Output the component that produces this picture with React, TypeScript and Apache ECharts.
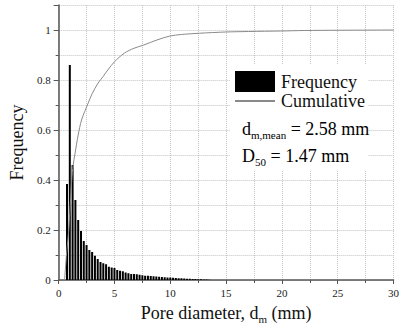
import React, { useEffect, useRef } from "react";
import * as echarts from "echarts";

const binCenters = [
  0.75, 1.0, 1.25, 1.5, 1.75, 2.0, 2.25, 2.5, 2.75, 3.0, 3.25, 3.5, 3.75, 4.0, 4.25, 4.5, 4.75, 5.0,
  5.25, 5.5, 5.75, 6.0, 6.25, 6.5, 6.75, 7.0, 7.25, 7.5, 7.75, 8.0, 8.25, 8.5, 8.75, 9.0, 9.25, 9.5,
  9.75, 10.0, 10.25, 10.5, 10.75, 11.0, 11.25, 11.5, 11.75, 12.0, 12.25, 12.5, 12.75, 13.0, 13.25, 13.5,
];
const frequency = [
  0.384, 0.86, 0.46, 0.32, 0.24, 0.196, 0.156, 0.14, 0.12, 0.112, 0.097, 0.084, 0.072, 0.067, 0.063,
  0.053, 0.05, 0.048, 0.04, 0.037, 0.035, 0.03, 0.027, 0.024, 0.024, 0.023, 0.021, 0.019, 0.017, 0.017,
  0.016, 0.015, 0.014, 0.013, 0.012, 0.011, 0.01, 0.01, 0.009, 0.008, 0.007, 0.007, 0.006, 0.005,
  0.005, 0.004, 0.004, 0.003, 0.003, 0.002, 0.002, 0.001,
];
const cumX = [
  0.53, 0.7, 0.88, 1.0, 1.17, 1.3, 1.47, 1.75, 2.05, 2.64, 3.0, 3.52, 4.0, 4.4, 5.0, 5.87, 6.75, 7.63,
  8.8, 9.97, 11.0, 12.6, 14.96, 17.0, 19.9, 22.0, 25.0, 30.0,
];
const cumY = [
  0, 0.1, 0.187, 0.27, 0.4, 0.46, 0.507, 0.58, 0.64, 0.707, 0.745, 0.787, 0.815, 0.84, 0.873, 0.907,
  0.927, 0.94, 0.96, 0.976, 0.982, 0.987, 0.992, 0.994, 0.996, 0.998, 0.999, 1.0,
];
const statLines = [
  { sym: "d", sub: "m,mean", rest: " = 2.58 mm" },
  { sym: "D", sub: "50", rest: " = 1.47 mm" },
];

const FONT = "Liberation Serif, Times New Roman, serif";

export default function App() {
  const ref = useRef<HTMLDivElement>(null);
  useEffect(() => {
    if (!ref.current) return;
    const chart = echarts.init(ref.current, undefined, { renderer: "svg" });
    const gridLine = { show: true, lineStyle: { type: "dotted", color: "#c4c4c4", width: 1 } };
    const axisLine = { show: true, onZero: false, lineStyle: { color: "#555", width: 1.5 } };
    const rich = {
      n: { fontSize: 18, fontFamily: FONT, color: "#111", lineHeight: 22 },
      s: { fontSize: 11, fontFamily: FONT, color: "#111", lineHeight: 22, verticalAlign: "bottom" },
    };
    chart.setOption({
      animation: false,
      backgroundColor: "#fff",
      grid: { left: 54, right: 8, top: 5, bottom: 53, containLabel: false },
      legend: {
        orient: "vertical",
        left: 234,
        top: 71,
        itemWidth: 40,
        itemHeight: 21,
        itemGap: 0,
        padding: 0,
        textStyle: { fontSize: 18, fontFamily: FONT, color: "#111", padding: [0, 0, 0, 1] },
        data: [
          { name: "Frequency", icon: "rect" },
          { name: "Cumulative", itemStyle: { opacity: 0 } },
        ],
      },
      xAxis: {
        type: "value",
        min: 0,
        max: 30,
        interval: 5,
        name: "{n|Pore diameter, d}{s|m}{n| (mm)}",
        nameLocation: "middle",
        nameGap: 22,
        nameTextStyle: { rich },
        axisLine,
        axisTick: { show: true, length: 4, lineStyle: { color: "#555" } },
        minorTick: { show: true, splitNumber: 2, length: 3, lineStyle: { color: "#555" } },
        axisLabel: { fontSize: 11, fontFamily: FONT, color: "#222", margin: 7 },
        splitLine: gridLine,
        minorSplitLine: gridLine,
      },
      yAxis: {
        type: "value",
        min: 0,
        max: 1.1,
        interval: 0.2,
        name: "Frequency",
        nameLocation: "middle",
        nameGap: 28,
        nameTextStyle: { fontSize: 18, fontFamily: FONT, color: "#111" },
        axisLine,
        axisTick: { show: true, length: 5, lineStyle: { color: "#555" } },
        minorTick: { show: true, splitNumber: 2, length: 3, lineStyle: { color: "#555" } },
        axisLabel: { fontSize: 11, fontFamily: FONT, color: "#222", margin: 8, showMaxLabel: false },
        splitLine: gridLine,
        minorSplitLine: gridLine,
      },
      graphic: [
        {
          type: "rect",
          z: 1,
          shape: { x: 230, y: 64, width: 138, height: 106 },
          style: { fill: "#fff" },
        },
        ...statLines.map((l, i) => ({
          type: "text",
          z: 5,
          left: 242,
          top: 120 + i * 27,
          style: {
            text: `{n|${l.sym}}{s|${l.sub}}{n|${l.rest}}`,
            rich,
          },
        })),
      ],
      series: [
        {
          name: "Frequency",
          type: "bar",
          barWidth: 2,
          itemStyle: { color: "#000" },
          data: binCenters.map((x, i) => [x, frequency[i]]),
          z: 3,
        },
        {
          name: "Cumulative",
          type: "line",
          smooth: 0.3,
          showSymbol: false,
          symbol: "none",
          lineStyle: { color: "#8a8a8a", width: 1 },
          itemStyle: { color: "#8a8a8a" },
          data: cumX.map((x, i) => [x, cumY[i]]),
          z: 4,
        },
      ],
    });
    return () => chart.dispose();
  }, []);
  return (
    <div
      ref={ref}
      style={{ position: "fixed", left: 0, top: 0, width: 402, height: 333, overflow: "hidden" }}
    />
  );
}
